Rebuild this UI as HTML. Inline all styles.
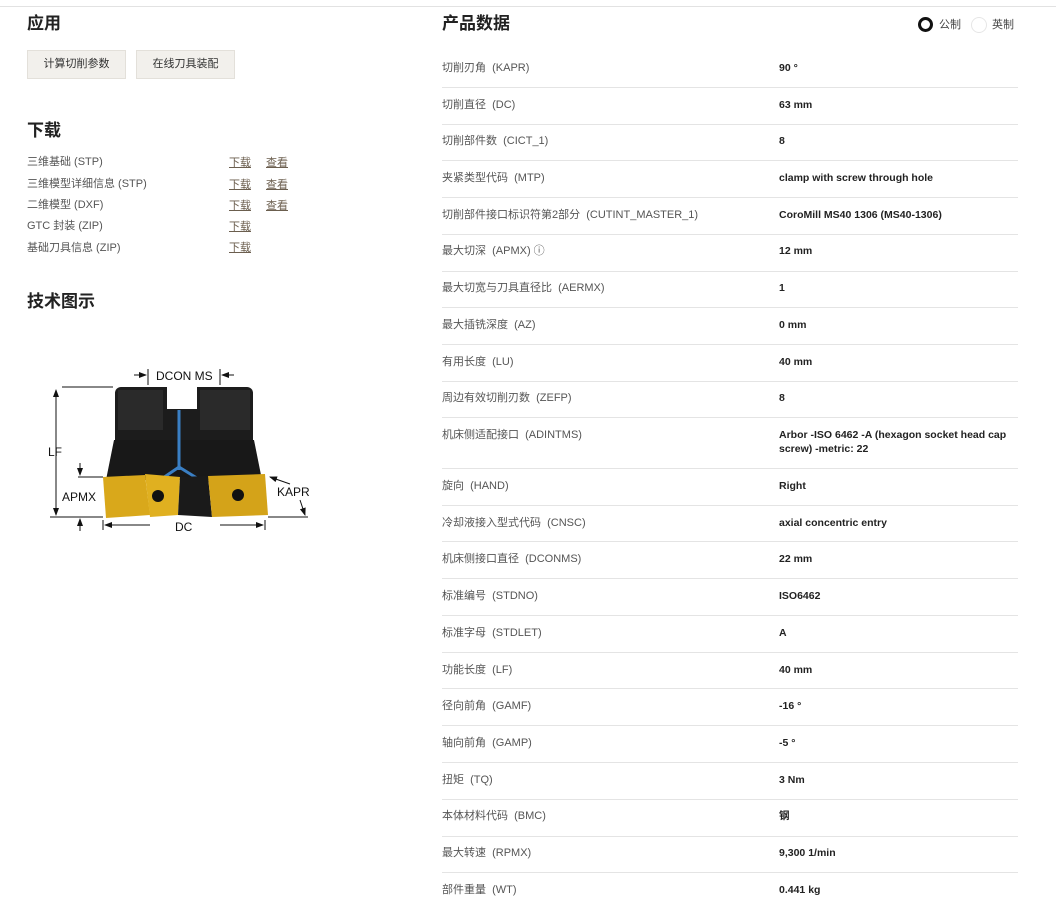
<!DOCTYPE html>
<html><head><meta charset="utf-8"><style>
body{margin:0;width:1056px;height:909px;background:#fff;font-family:"Liberation Sans","Noto Sans CJK SC",sans-serif;position:relative;overflow:hidden;color:#222}
.a{position:absolute;white-space:nowrap;line-height:14px}
h2{position:absolute;margin:0;font-size:17px;font-weight:bold;color:#222;line-height:20px}
.btn{position:absolute;top:50px;height:27px;background:#f2f0ec;border:1px solid #e3e0da;font-size:11px;color:#333;line-height:27px;text-align:center}
.dl{font-size:11px;color:#555}
.lk{font-size:11px;color:#6b5e4e;text-decoration:underline}
.lb{font-size:11px;color:#555;left:442px}
.v{font-size:10.5px;color:#222;left:779px;font-weight:bold}
.ln{position:absolute;left:442px;width:576px;height:1px;background:#e4e4e4}
</style></head><body>
<div style="position:absolute;left:0;top:6px;width:1056px;height:1px;background:#e2e2e2"></div>
<h2 style="left:27px;top:14px">应用</h2>
<div class="btn" style="left:27px;width:97px">计算切削参数</div>
<div class="btn" style="left:136px;width:97px">在线刀具装配</div>
<h2 style="left:27px;top:121px">下载</h2>
<div class="a dl" style="left:27px;top:155px">三维基础 (STP)</div>
<div class="a dl" style="left:27px;top:177px">三维模型详细信息 (STP)</div>
<div class="a dl" style="left:27px;top:198px">二维模型 (DXF)</div>
<div class="a dl" style="left:27px;top:219px">GTC 封装 (ZIP)</div>
<div class="a dl" style="left:27px;top:241px">基础刀具信息 (ZIP)</div>
<div class="a lk" style="left:229px;top:156px">下载</div><div class="a lk" style="left:266px;top:156px">查看</div>
<div class="a lk" style="left:229px;top:178px">下载</div><div class="a lk" style="left:266px;top:178px">查看</div>
<div class="a lk" style="left:229px;top:199px">下载</div><div class="a lk" style="left:266px;top:199px">查看</div>
<div class="a lk" style="left:229px;top:220px">下载</div>
<div class="a lk" style="left:229px;top:241px">下载</div>
<h2 style="left:27px;top:292px">技术图示</h2>

<svg class="a" style="left:40px;top:360px;line-height:normal" width="280" height="175" viewBox="40 360 280 175">
<defs><marker id="ar" markerWidth="8" markerHeight="8" refX="7" refY="4" orient="auto"><path d="M0,1 L8,4 L0,7z" fill="#111"/></marker></defs>
<rect x="115" y="387" width="138" height="60" rx="6" fill="#1c1c1c"/>
<rect x="118" y="390" width="45" height="40" fill="#2a2a2a"/>
<rect x="200" y="390" width="50" height="40" fill="#2a2a2a"/>
<rect x="167" y="387" width="30" height="22" fill="#fff"/>
<path d="M114 440 L254 440 L262 480 L106 480z" fill="#181818"/>
<line x1="179" y1="410" x2="179" y2="470" stroke="#3a7fc4" stroke-width="3"/>
<path d="M160 480 L179 467 L200 480" stroke="#3a7fc4" stroke-width="3" fill="none"/>
<path d="M103 477 L145 475 L150 515 L106 518z" fill="#d9a81b"/>
<path d="M145 474 L180 477 L178 515 L150 517z" fill="#e0b020"/>
<path d="M180 477 L208 476 L212 517 L178 515z" fill="#1a1a1a"/>
<circle cx="158" cy="496" r="6" fill="#111"/>
<path d="M208 476 L265 474 L268 515 L212 517z" fill="#d4a319"/>
<circle cx="238" cy="495" r="6" fill="#111"/>
<line x1="62" y1="387" x2="113" y2="387" stroke="#111"/>
<line x1="56" y1="390" x2="56" y2="515" stroke="#111" marker-end="url(#ar)"/>
<line x1="56" y1="470" x2="56" y2="390" stroke="#111" marker-end="url(#ar)"/>
<line x1="50" y1="517" x2="103" y2="517" stroke="#111"/>
<line x1="78" y1="477" x2="103" y2="477" stroke="#111"/>
<line x1="80" y1="463" x2="80" y2="475" stroke="#111" marker-end="url(#ar)"/>
<line x1="80" y1="531" x2="80" y2="519" stroke="#111" marker-end="url(#ar)"/>
<line x1="103" y1="520" x2="103" y2="530" stroke="#111"/><line x1="265" y1="520" x2="265" y2="530" stroke="#111"/>
<line x1="150" y1="525" x2="105" y2="525" stroke="#111" marker-end="url(#ar)"/>
<line x1="220" y1="525" x2="263" y2="525" stroke="#111" marker-end="url(#ar)"/>
<line x1="148" y1="369" x2="148" y2="385" stroke="#111"/><line x1="220" y1="369" x2="220" y2="385" stroke="#111"/>
<line x1="134" y1="375" x2="146" y2="375" stroke="#111" marker-end="url(#ar)"/>
<line x1="234" y1="375" x2="222" y2="375" stroke="#111" marker-end="url(#ar)"/>
<line x1="268" y1="517" x2="308" y2="517" stroke="#111"/>
<line x1="300" y1="500" x2="305" y2="515" stroke="#111" marker-end="url(#ar)"/>
<line x1="290" y1="484" x2="270" y2="477" stroke="#111" marker-end="url(#ar)"/>
<g font-family="Liberation Sans,sans-serif" font-size="12" fill="#111">
<text x="156" y="380">DCON MS</text><text x="48" y="456">LF</text><text x="62" y="501">APMX</text>
<text x="277" y="496">KAPR</text><text x="175" y="531">DC</text></g>
</svg>

<h2 style="left:442px;top:14px">产品数据</h2>
<div class="a" style="left:918px;top:17px;width:9px;height:9px;border:3px solid #111;border-radius:50%"></div>
<div class="a" style="left:939px;top:18px;font-size:11px;color:#444">公制</div>
<div class="a" style="left:971px;top:17px;width:14px;height:14px;border:1px solid #e6e6e6;border-radius:50%"></div>
<div class="a" style="left:992px;top:18px;font-size:11px;color:#444">英制</div>

<div class="a lb" style="top:61px">切削刃角 &nbsp;(KAPR)</div><div class="a v" style="top:61px">90 °</div>
<div class="a lb" style="top:98px">切削直径 &nbsp;(DC)</div><div class="a v" style="top:98px">63 mm</div>
<div class="a lb" style="top:134px">切削部件数 &nbsp;(CICT_1)</div><div class="a v" style="top:134px">8</div>
<div class="a lb" style="top:171px">夹紧类型代码 &nbsp;(MTP)</div><div class="a v" style="top:171px">clamp with screw through hole</div>
<div class="a lb" style="top:208px">切削部件接口标识符第2部分 &nbsp;(CUTINT_MASTER_1)</div><div class="a v" style="top:208px">CoroMill MS40 1306 (MS40-1306)</div>
<div class="a lb" style="top:244px">最大切深 &nbsp;(APMX) ⓘ</div><div class="a v" style="top:244px">12 mm</div>
<div class="a lb" style="top:281px">最大切宽与刀具直径比 &nbsp;(AERMX)</div><div class="a v" style="top:281px">1</div>
<div class="a lb" style="top:318px">最大插铣深度 &nbsp;(AZ)</div><div class="a v" style="top:318px">0 mm</div>
<div class="a lb" style="top:355px">有用长度 &nbsp;(LU)</div><div class="a v" style="top:355px">40 mm</div>
<div class="a lb" style="top:391px">周边有效切削刃数 &nbsp;(ZEFP)</div><div class="a v" style="top:391px">8</div>
<div class="a lb" style="top:428px">机床侧适配接口 &nbsp;(ADINTMS)</div><div class="a v" style="top:428px">Arbor -ISO 6462 -A (hexagon socket head cap<br>screw) -metric: 22</div>
<div class="a lb" style="top:479px">旋向 &nbsp;(HAND)</div><div class="a v" style="top:479px">Right</div>
<div class="a lb" style="top:516px">冷却液接入型式代码 &nbsp;(CNSC)</div><div class="a v" style="top:516px">axial concentric entry</div>
<div class="a lb" style="top:552px">机床侧接口直径 &nbsp;(DCONMS)</div><div class="a v" style="top:552px">22 mm</div>
<div class="a lb" style="top:589px">标准编号 &nbsp;(STDNO)</div><div class="a v" style="top:589px">ISO6462</div>
<div class="a lb" style="top:626px">标准字母 &nbsp;(STDLET)</div><div class="a v" style="top:626px">A</div>
<div class="a lb" style="top:663px">功能长度 &nbsp;(LF)</div><div class="a v" style="top:663px">40 mm</div>
<div class="a lb" style="top:699px">径向前角 &nbsp;(GAMF)</div><div class="a v" style="top:699px">-16 °</div>
<div class="a lb" style="top:736px">轴向前角 &nbsp;(GAMP)</div><div class="a v" style="top:736px">-5 °</div>
<div class="a lb" style="top:773px">扭矩 &nbsp;(TQ)</div><div class="a v" style="top:773px">3 Nm</div>
<div class="a lb" style="top:809px">本体材料代码 &nbsp;(BMC)</div><div class="a v" style="top:809px">钢</div>
<div class="a lb" style="top:846px">最大转速 &nbsp;(RPMX)</div><div class="a v" style="top:846px">9,300 1/min</div>
<div class="a lb" style="top:883px">部件重量 &nbsp;(WT)</div><div class="a v" style="top:883px">0.441 kg</div>

<div class="ln" style="top:87px"></div><div class="ln" style="top:124px"></div><div class="ln" style="top:160px"></div>
<div class="ln" style="top:197px"></div><div class="ln" style="top:234px"></div><div class="ln" style="top:271px"></div>
<div class="ln" style="top:307px"></div><div class="ln" style="top:344px"></div><div class="ln" style="top:381px"></div>
<div class="ln" style="top:417px"></div><div class="ln" style="top:468px"></div><div class="ln" style="top:505px"></div>
<div class="ln" style="top:541px"></div><div class="ln" style="top:578px"></div><div class="ln" style="top:615px"></div>
<div class="ln" style="top:652px"></div><div class="ln" style="top:688px"></div><div class="ln" style="top:725px"></div>
<div class="ln" style="top:762px"></div><div class="ln" style="top:799px"></div><div class="ln" style="top:836px"></div>
<div class="ln" style="top:872px"></div>
</body></html>
